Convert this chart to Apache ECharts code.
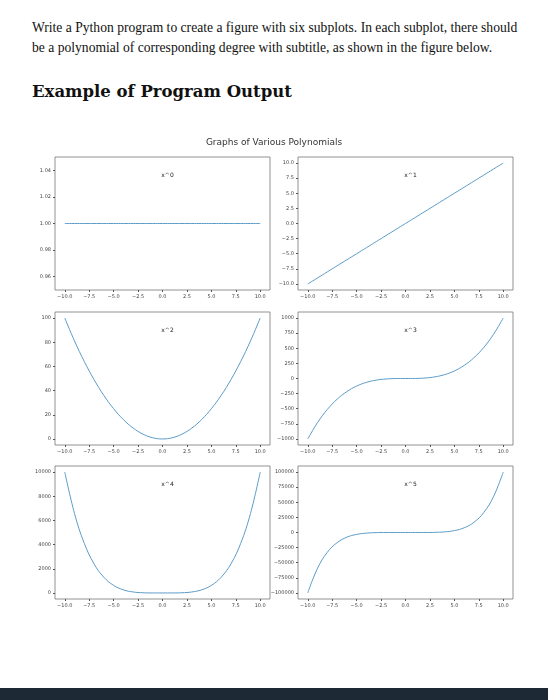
<!DOCTYPE html>
<html><head><meta charset="utf-8">
<script src="https://cdn.jsdelivr.net/npm/echarts@6/dist/echarts.min.js"></script>
<style>
body{margin:0;width:548px;height:700px;background:#fff;overflow:hidden;position:relative;font-family:"DejaVu Serif","Liberation Serif",serif;color:#111}
#t1{position:absolute;left:32px;top:18px;font-family:"Liberation Serif",serif;font-size:13.6px;line-height:20px;width:520px;white-space:nowrap}
#h{position:absolute;left:32px;top:82px;font-size:16.5px;font-weight:bold}
#c{position:absolute;left:0;top:125px;width:548px;height:490px}
#band{position:absolute;left:0;top:688px;width:548px;height:12px;background:#1d2a36}
</style></head><body>
<div id="t1">Write a Python program to create a figure with six subplots. In each subplot, there should<br>be a polynomial of corresponding degree with subtitle, as shown in the figure below.</div>
<div id="h">Example of Program Output</div>
<div id="c"></div>
<div id="band"></div>
<script>
const xs=[-10,-9,-8,-7,-6,-5,-4,-3,-2,-1,0,1,2,3,4,5,6,7,8,9,10];
const titles=["x^0","x^1","x^2","x^3","x^4","x^5"];
const y0=[1,1,1,1,1,1,1,1,1,1,1,1,1,1,1,1,1,1,1,1,1];
const y1=[-10,-9,-8,-7,-6,-5,-4,-3,-2,-1,0,1,2,3,4,5,6,7,8,9,10];
const y2=[100,81,64,49,36,25,16,9,4,1,0,1,4,9,16,25,36,49,64,81,100];
const y3=[-1000,-729,-512,-343,-216,-125,-64,-27,-8,-1,0,1,8,27,64,125,216,343,512,729,1000];
const y4=[10000,6561,4096,2401,1296,625,256,81,16,1,0,1,16,81,256,625,1296,2401,4096,6561,10000];
const y5=[-100000,-59049,-32768,-16807,-7776,-3125,-1024,-243,-32,-1,0,1,32,243,1024,3125,7776,16807,32768,59049,100000];
const xTicks=[-10,-7.5,-5,-2.5,0,2.5,5,7.5,10];
const yTicks=[[0.96,0.98,1.00,1.02,1.04],[-10,-7.5,-5,-2.5,0,2.5,5,7.5,10],[0,20,40,60,80,100],
 [-1000,-750,-500,-250,0,250,500,750,1000],[0,2000,4000,6000,8000,10000],
 [-100000,-75000,-50000,-25000,0,25000,50000,75000,100000]];
const yRange=[[0.95,1.05],[-11,11],[-5,105],[-1100,1100],[-500,10500],[-110000,110000]];
const yDec=[2,1,0,0,0,0];
const ys=[y0,y1,y2,y3,y4,y5];
const chart=echarts.init(document.getElementById('c'));
const lefts=[55,298], tops=[32,187,341], W=215, H=133;
const grid=[],xAxis=[],yAxis=[],series=[],title=[{text:"Graphs of Various Polynomials",left:'center',top:8,textStyle:{fontFamily:"DejaVu Sans",fontSize:9,fontWeight:'normal',color:'#333'}}];
const m=v=>String(v).replace('-','\u2212');
for(let i=0;i<6;i++){
 const c=i%2,r=Math.floor(i/2);
 grid.push({left:lefts[c],top:tops[r],width:W,height:H,show:true,borderColor:'#777',borderWidth:0.8});
 const lbl={fontSize:5,color:'#444',fontFamily:"DejaVu Sans",margin:4};
 xAxis.push({type:'value',gridIndex:i,position:'bottom',min:-11,max:11,splitLine:{show:false},axisLine:{show:false,onZero:false},
  axisTick:{show:true,length:2,customValues:xTicks,lineStyle:{color:'#555'}},
  axisLabel:Object.assign({customValues:xTicks,formatter:v=>m(v.toFixed(1))},lbl)});
 yAxis.push({type:'value',gridIndex:i,position:'left',min:yRange[i][0],max:yRange[i][1],splitLine:{show:false},axisLine:{show:false,onZero:false},
  axisTick:{show:true,length:2,customValues:yTicks[i],lineStyle:{color:'#555'}},
  axisLabel:Object.assign({customValues:yTicks[i],formatter:v=>m(v.toFixed(yDec[i]))},lbl)});
 series.push({type:'line',xAxisIndex:i,yAxisIndex:i,data:xs.map((x,k)=>[x,ys[i][k]]),smooth:0.4,showSymbol:false,
  lineStyle:{color:'#5b9bc8',width:1},silent:true});
 title.push({text:titles[i],left:lefts[c]+W/2,textAlign:'center',top:tops[r]+10,textStyle:{fontFamily:"DejaVu Sans",fontSize:6,fontWeight:'normal',color:'#222'}});
}
chart.setOption({animation:false,title,grid,xAxis,yAxis,series});
</script>
</body></html>
